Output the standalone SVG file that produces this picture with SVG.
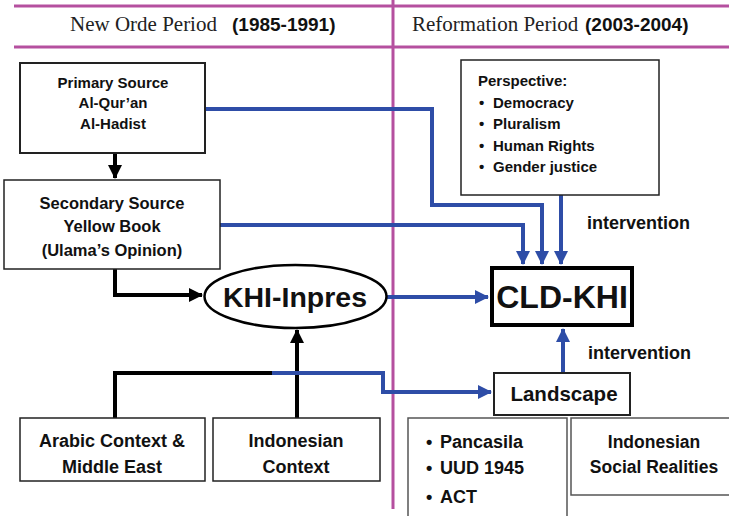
<svg xmlns="http://www.w3.org/2000/svg" width="729" height="516" viewBox="0 0 729 516">
<style>
.box{fill:#fff;stroke:#222;stroke-width:1.5}
.t{font-family:"Liberation Sans",Arial,sans-serif;font-weight:bold;fill:#111}
.c{text-anchor:middle}
.hdr{font-family:"Liberation Serif","Times New Roman",serif;font-size:21px;fill:#222}
.hb{font-family:"Liberation Sans",Arial,sans-serif;font-weight:bold;font-size:19px;fill:#111}
.blue{fill:none;stroke:#2E4DA7;stroke-width:4}
.black{fill:none;stroke:#000;stroke-width:4}
.mag{stroke:#B5509F;stroke-width:3;fill:none}
</style>
<defs>
<marker id="ab" markerUnits="userSpaceOnUse" markerWidth="14" markerHeight="14" viewBox="0 0 14 14" refX="13" refY="7" orient="auto"><path d="M0,0 L14,7 L0,14 Z" fill="#2E4DA7"/></marker>
<marker id="ak" markerUnits="userSpaceOnUse" markerWidth="14" markerHeight="14" viewBox="0 0 14 14" refX="13" refY="7" orient="auto"><path d="M0,0 L14,7 L0,14 Z" fill="#000"/></marker>
</defs>
<rect width="729" height="516" fill="#fff"/>
<g id="header">
<line class="mag" x1="14" y1="6" x2="729" y2="6"/>
<line class="mag" x1="14" y1="47" x2="729" y2="47"/>
<line class="mag" x1="393" y1="0" x2="393" y2="509"/>
<text x="70" y="31"><tspan class="hdr">New Orde Period </tspan><tspan class="hb" x="232">(1985-1991)</tspan></text>
<text x="412" y="31"><tspan class="hdr">Reformation Period </tspan><tspan class="hb" x="585">(2003-2004)</tspan></text>
</g>
<g id="connectors">
<path class="black" d="M115,153 V178" marker-end="url(#ak)"/>
<path class="black" d="M115,269 V295 H202" marker-end="url(#ak)"/>
<path class="black" d="M297,418 V330" marker-end="url(#ak)"/>
<path class="black" d="M115,418 V373 H274"/>
<path class="blue" d="M272,373 H383 V392 H491" marker-end="url(#ab)"/>
<path class="blue" d="M205,109 H432 V205 H542 V264" marker-end="url(#ab)"/>
<path class="blue" d="M220,225 H523 V264" marker-end="url(#ab)"/>
<path class="blue" d="M561,195 V264" marker-end="url(#ab)"/>
<path class="blue" d="M387,297 H488" marker-end="url(#ab)"/>
<path class="blue" d="M563,373 V329" marker-end="url(#ab)"/>
</g>
<g id="primary">
<rect class="box" x="20" y="63" width="185" height="90" style="stroke-width:2"/>
<text class="t c" font-size="15" x="113" y="88">Primary Source</text>
<text class="t c" font-size="15" x="113" y="108">Al-Qur’an</text>
<text class="t c" font-size="15" x="113" y="129">Al-Hadist</text>
</g>
<g id="secondary">
<rect class="box" x="4" y="180" width="216" height="89"/>
<text class="t c" font-size="16.5" x="112" y="209">Secondary Source</text>
<text class="t c" font-size="16.5" x="112" y="232">Yellow Book</text>
<text class="t c" font-size="16.5" x="112" y="256">(Ulama’s Opinion)</text>
</g>
<g id="khi-inpres">
<ellipse cx="295.5" cy="296.5" rx="91" ry="31.5" fill="#fff" stroke="#000" stroke-width="2.5"/>
<text class="t c" font-size="28.5" x="295" y="306.5">KHI-Inpres</text>
</g>
<g id="perspective">
<rect class="box" x="461" y="60" width="198" height="135"/>
<text class="t" font-size="15" x="478" y="86">Perspective:</text>
<text class="t" font-size="15" y="107.5"><tspan x="479">•</tspan><tspan x="493">Democracy</tspan></text>
<text class="t" font-size="15" y="129"><tspan x="479">•</tspan><tspan x="493">Pluralism</tspan></text>
<text class="t" font-size="15" y="150.5"><tspan x="479">•</tspan><tspan x="493">Human Rights</tspan></text>
<text class="t" font-size="15" y="172"><tspan x="479">•</tspan><tspan x="493">Gender justice</tspan></text>
</g>
<g id="intervention-top">
<text class="t" font-size="18" x="587" y="229">intervention</text>
</g>
<g id="cld-khi">
<rect x="492" y="268" width="140" height="57" fill="#fff" stroke="#000" stroke-width="4"/>
<text class="t c" font-size="32" x="562" y="308">CLD-KHI</text>
</g>
<g id="intervention-bottom">
<text class="t" font-size="18" x="588" y="359">intervention</text>
</g>
<g id="landscape">
<rect class="box" x="494" y="373" width="136" height="42" style="stroke-width:2"/>
<text class="t c" font-size="20.5" x="564" y="401">Landscape</text>
</g>
<g id="arabic">
<rect class="box" x="20" y="418" width="185" height="63"/>
<text class="t c" font-size="18" x="112" y="447">Arabic Context &amp;</text>
<text class="t c" font-size="18" x="112" y="473">Middle East</text>
</g>
<g id="indonesian-context">
<rect class="box" x="213" y="418" width="167" height="63"/>
<text class="t c" font-size="18" x="296" y="447">Indonesian</text>
<text class="t c" font-size="18" x="296" y="473">Context</text>
</g>
<g id="pancasila">
<rect class="box" x="408" y="418" width="159" height="110" style="stroke:#555"/>
<text class="t" font-size="18" y="448"><tspan x="426">•</tspan><tspan x="440">Pancasila</tspan></text>
<text class="t" font-size="18" y="474"><tspan x="426">•</tspan><tspan x="440">UUD 1945</tspan></text>
<text class="t" font-size="18" y="503"><tspan x="426">•</tspan><tspan x="440">ACT</tspan></text>
</g>
<g id="social-realities">
<rect class="box" x="571" y="418" width="170" height="77" style="stroke:#555"/>
<text class="t c" font-size="17.5" x="654" y="448">Indonesian</text>
<text class="t c" font-size="17.5" x="654" y="473">Social Realities</text>
</g>
</svg>
